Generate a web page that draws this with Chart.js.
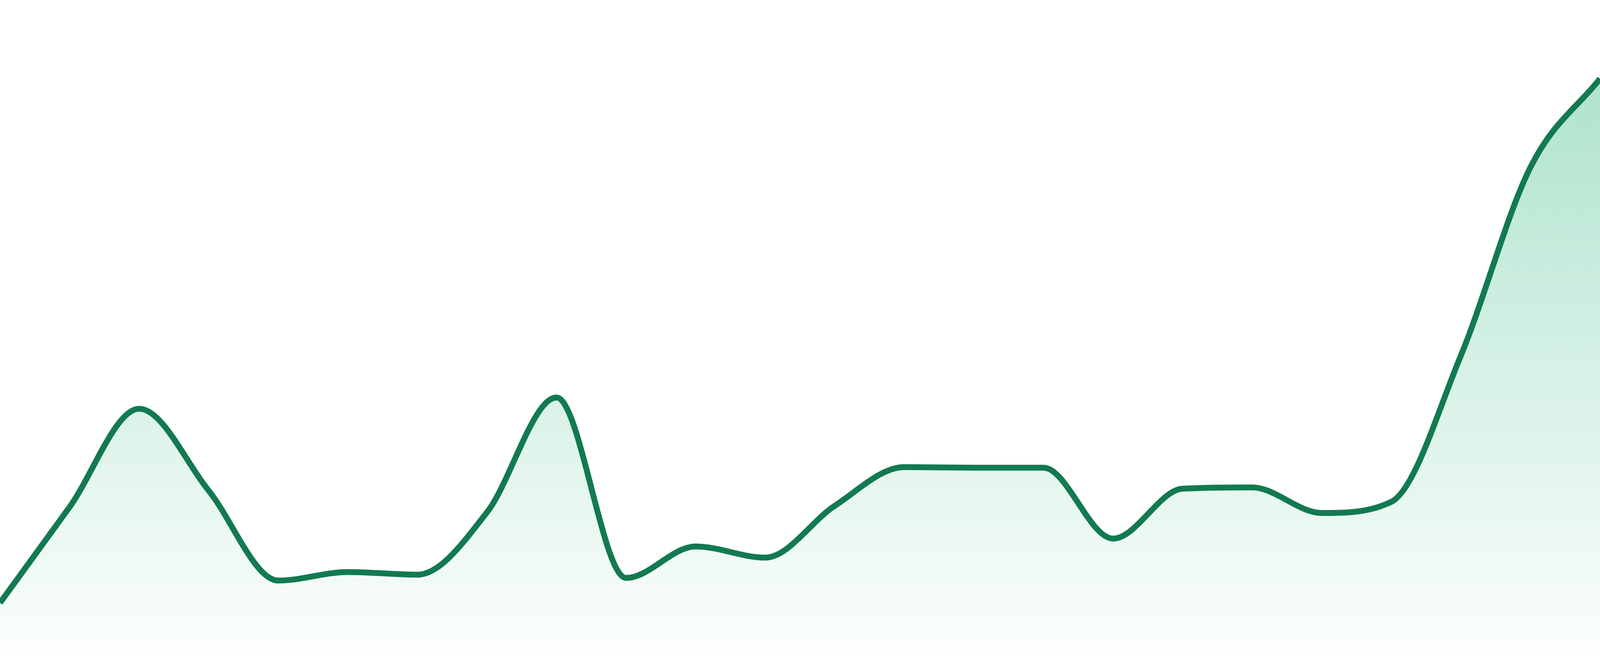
<!DOCTYPE html>
<html>
<head>
<meta charset="utf-8">
<script src="https://cdn.jsdelivr.net/npm/chart.js@4/dist/chart.umd.min.js"></script>
<style>
  html, body { margin: 0; padding: 0; background: #fff; overflow: hidden; }
  #wrap { position: relative; width: 100vw; height: 100vh; }
</style>
</head>
<body>
<div id="wrap"><canvas id="grafico"></canvas></div>
<script>
// 24 pontos, eixos escondidos (sparkline de área)
const horas = ['00h', '01h', '02h', '03h', '04h', '05h', '06h', '07h', '08h', '09h', '10h', '11h',
  '12h', '13h', '14h', '15h', '16h', '17h', '18h', '19h', '20h', '21h', '22h', '23h'];
const valores = [8.1, 22.7, 37.7, 25.2, 11.5, 12.8, 12.4, 21.9, 39.4, 11.9, 16.7, 15.0,
  22.9, 28.8, 28.7, 28.7, 17.9, 25.5, 25.7, 21.8, 23.5, 45.8, 74.5, 88.0];
const yMin = 0, yMax = 100;

const cor = { linha: '#127a50', fill: '16,172,108' };

// gradiente vertical sobre a área do gráfico
function gradiente(ctx) {
  const area = ctx.chart.chartArea;
  if (!area) return 'rgba(' + cor.fill + ',0.2)';
  const g = ctx.chart.ctx.createLinearGradient(0, area.top, 0, area.bottom);
  g.addColorStop(0, 'rgba(' + cor.fill + ',0.38)');
  g.addColorStop(1, 'rgba(' + cor.fill + ',0.01)');
  return g;
}

new Chart(document.getElementById('grafico'), {
  type: 'line',
  data: {
    labels: horas,
    datasets: [{
      data: valores,
      borderColor: cor.linha,
      borderWidth: 15,
      backgroundColor: gradiente,
      fill: 'start',
      pointRadius: 0,
      cubicInterpolationMode: 'monotone',
    }],
  },
  options: {
    responsive: true, maintainAspectRatio: false, animation: false,
    layout: { padding: 0 },
    plugins: { legend: { display: false }, tooltip: { enabled: false } },
    scales: {
      x: { display: false },
      y: { display: false, min: yMin, max: yMax },
    },
  },
});
</script>
</body>
</html>
